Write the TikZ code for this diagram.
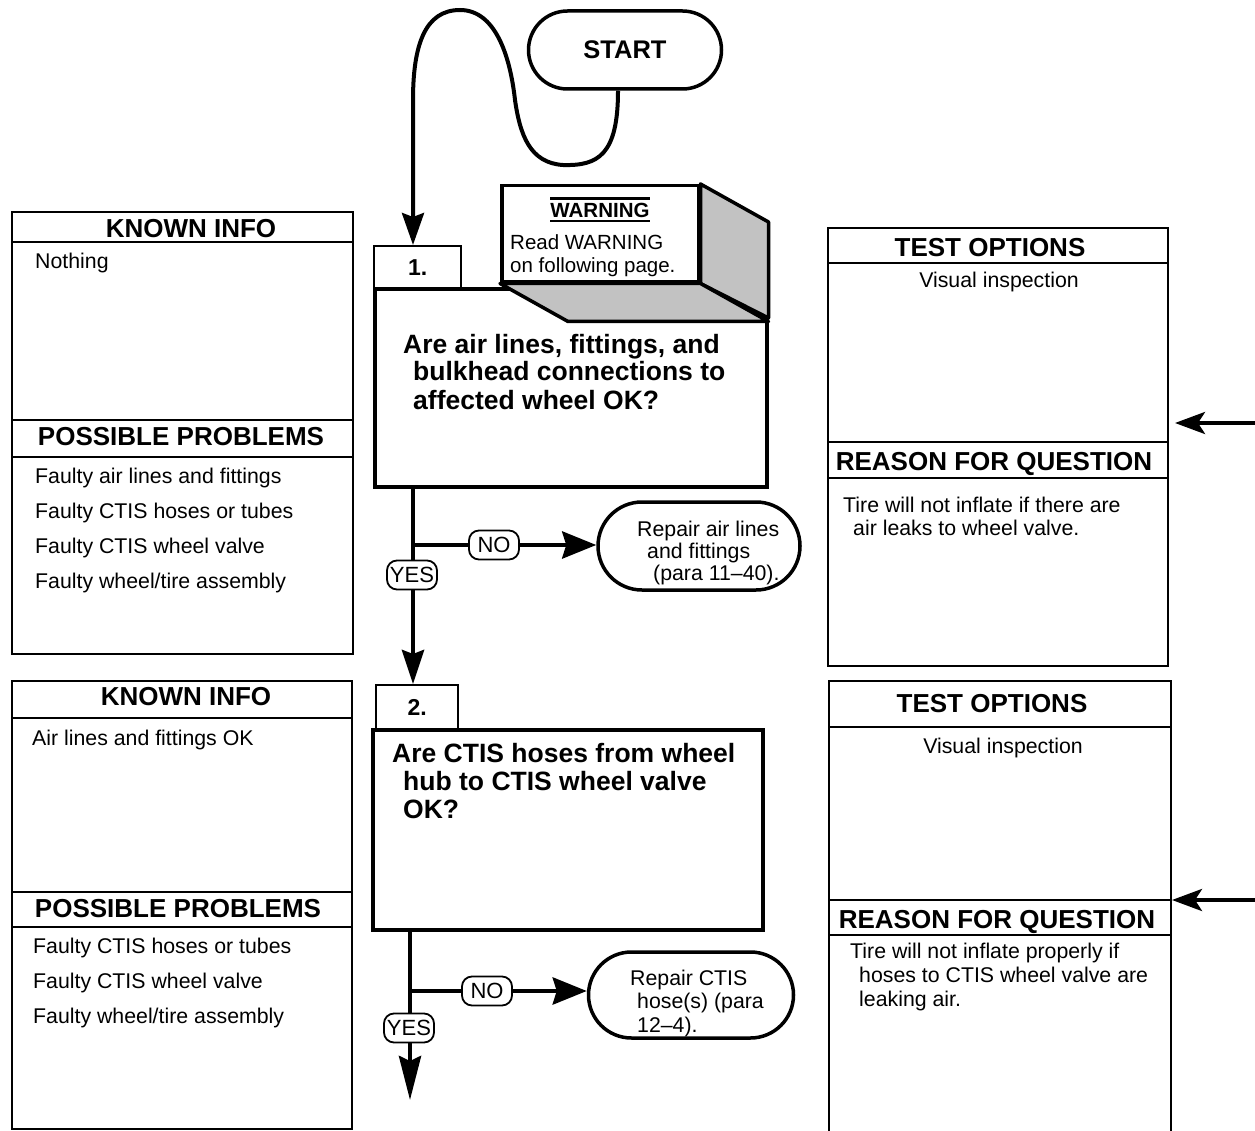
\documentclass[tikz,border=0pt]{standalone}
\usepackage{fontspec}
\setmainfont{Liberation Sans}
\usetikzlibrary{arrows.meta,calc}
\newcommand\bodyfont{\fontsize{21.3}{23}\selectfont}
\newcommand\headfont{\fontsize{26}{30}\selectfont\bfseries}
\newcommand\quesfont{\fontsize{26.5}{28}\selectfont\bfseries}
\newcommand\textrows[1]{\begin{tabular}[t]{@{}l@{}}#1\end{tabular}}

\begin{document}
\begin{tikzpicture}[x=1pt,y=-1pt,
  panel/.style={draw, line width=2pt, anchor=north west, inner sep=0pt},
  rule/.style={line width=2pt},
  heading/.style={font=\headfont, anchor=base, inner sep=0pt},
  body/.style={font=\bodyfont, anchor=base west, inner sep=0pt},
  ques/.style={draw, line width=4pt, anchor=north west, inner sep=0pt},
  tabbox/.style={draw, line width=2.2pt, anchor=north west, inner sep=0pt, font=\fontsize{23}{23}\selectfont\bfseries},
  flow/.style={line width=4.5pt},
  flowarrow/.style={flow, -{Stealth[length=34pt,width=27pt,inset=4pt]}},
  downarrow/.style={flow, -{Stealth[length=34pt,width=22pt,inset=4pt]}},
  longdown/.style={flow, -{Stealth[length=44pt,width=22pt,inset=5pt]}},
  sidearrow/.style={line width=4pt, -{Stealth[length=30pt,width=22pt,inset=7pt]}},
  answer/.style={draw, line width=1.8pt, rounded corners=10pt, fill=white, inner xsep=1pt, inner ysep=0pt, minimum width=50pt, minimum height=29pt, font=\fontsize{22}{22}\selectfont},
  pill/.style={draw, line width=3.5pt, rounded corners=42pt},
  shadeface/.style={draw, line width=3.5pt, fill=black!24, line join=round},
]
\path[fill=white, use as bounding box] (0,0) rectangle (1255,1131);

% ---------------- left column, step 1
\node[panel, minimum width=341pt, minimum height=442pt] (known1) at (11,211) {};
\draw[rule] (known1.west |- 0,242) -- (known1.east |- 0,242);
\draw[rule] (known1.west |- 0,420) -- (known1.east |- 0,420);
\draw[rule] (known1.west |- 0,457) -- (known1.east |- 0,457);
\node[heading] (known1h) at (191,238) {KNOWN INFO};
\node[body] (known1t) at (35,269) {Nothing};
\node[heading] (prob1h) at (181,445) {POSSIBLE PROBLEMS};
\node[body, font=\fontsize{21.3}{35}\selectfont] (prob1t) at (35,483)
  {\textrows{Faulty air lines and fittings\\Faulty CTIS hoses or tubes\\Faulty CTIS wheel valve\\Faulty wheel/tire assembly}};

% ---------------- left column, step 2
\node[panel, minimum width=340pt, minimum height=448pt] (known2) at (11,680) {};
\draw[rule] (known2.west |- 0,718) -- (known2.east |- 0,718);
\draw[rule] (known2.west |- 0,892) -- (known2.east |- 0,892);
\draw[rule] (known2.west |- 0,927) -- (known2.east |- 0,927);
\node[heading] (known2h) at (186,705) {KNOWN INFO};
\node[body] (known2t) at (32,745) {Air lines and fittings OK};
\node[heading] (prob2h) at (178,917) {POSSIBLE PROBLEMS};
\node[body, font=\fontsize{21.3}{35}\selectfont] (prob2t) at (33,953)
  {\textrows{Faulty CTIS hoses or tubes\\Faulty CTIS wheel valve\\Faulty wheel/tire assembly}};

% ---------------- right column, step 1
\node[panel, minimum width=340pt, minimum height=438pt] (test1) at (827,227) {};
\draw[rule] (test1.west |- 0,263) -- (test1.east |- 0,263);
\draw[rule] (test1.west |- 0,442) -- (test1.east |- 0,442);
\draw[rule] (test1.west |- 0,478) -- (test1.east |- 0,478);
\node[heading] (test1h) at (990,257) {TEST OPTIONS};
\node[body, anchor=base] (test1t) at (999,288) {Visual inspection};
\node[heading] (why1h) at (994,470) {REASON FOR QUESTION};
\node[body, font=\fontsize{21.3}{23}\selectfont] (why1t) at (843,512)
  {\textrows{Tire will not inflate if there are\\\hspace*{10pt}air leaks to wheel valve.}};
\coordinate (in1) at (1255,423);
\draw[sidearrow] (in1) -- ($(test1.east |- in1)+(6,0)$);

% ---------------- right column, step 2
\node[panel, minimum width=342pt, minimum height=470pt] (test2) at (828,680) {};
\draw[rule] (test2.west |- 0,727) -- (test2.east |- 0,727);
\draw[rule] (test2.west |- 0,900) -- (test2.east |- 0,900);
\draw[rule] (test2.west |- 0,935) -- (test2.east |- 0,935);
\node[heading] (test2h) at (992,712) {TEST OPTIONS};
\node[body, anchor=base] (test2t) at (1003,753) {Visual inspection};
\node[heading] (why2h) at (997,928) {REASON FOR QUESTION};
\node[body, font=\fontsize{21.3}{24}\selectfont] (why2t) at (850,958)
  {\textrows{Tire will not inflate properly if\\\hspace*{9pt}hoses to CTIS wheel valve are\\\hspace*{9pt}leaking air.}};
\coordinate (in2) at (1255,900);
\draw[sidearrow] (in2) -- (test2.east |- in2);

% ---------------- start
\node[pill, rounded corners=39pt, minimum width=193pt, minimum height=78pt,
      font=\fontsize{25.5}{25.5}\selectfont\bfseries] (start) at (625,50) {START};

% ---------------- question 1 with warning block
\node[tabbox, minimum width=87pt, minimum height=42pt] (tab1) at (373,245) {1.};
\node[ques, minimum width=392pt, minimum height=198pt] (q1) at (373,287) {};
\node[draw, line width=3.5pt, fill=white, anchor=north west, inner sep=0pt,
      minimum width=197pt, minimum height=96pt] (warn) at (500,184) {};
\draw[shadeface] (warn.north east) -- ++(68,38) -- ++(0,96) -- (warn.south east) -- cycle;
\draw[shadeface] (warn.south west) -- (warn.south east) -- ++(68,38)
  -- ($(warn.south west)+(68,38)$) -- cycle;
\node[inner sep=0pt, anchor=base, font=\fontsize{20.5}{20.5}\selectfont\bfseries] (wtitle) at (600,218) {WARNING};
\draw[line width=2.5pt] ($(wtitle.north west)+(0,-5)$) -- ($(wtitle.north east)+(0,-5)$);
\draw[line width=2pt] ($(wtitle.base west)+(0,3)$) -- ($(wtitle.base east)+(0,3)$);
\node[body, font=\fontsize{20.5}{22.5}\selectfont] (wtext) at (510,250)
  {\textrows{Read WARNING\\on following page.}};
\node[body, font=\quesfont] (q1t) at (403,353)
  {\textrows{Are air lines, fittings, and\\\hspace*{10pt}bulkhead connections to\\\hspace*{10pt}affected wheel OK?}};

\draw[line width=4pt, -{Stealth[length=32pt,width=22pt,inset=4pt]}]
  (start.south -| 618,0) .. controls (618,155) and (598,166) .. (563,165)
  .. controls (530,163) and (520,135) .. (515,100)
  .. controls (510,55) and (495,10) .. (460,10)
  .. controls (425,10) and (413,45) .. (413,100)
  -- (tab1.north -| 413,0);

% ---------------- question 2
\node[tabbox, minimum width=82pt, minimum height=44pt] (tab2) at (375,684) {2.};
\node[ques, minimum width=390pt, minimum height=200pt] (q2) at (371,728) {};
\node[body, font=\quesfont] (q2t) at (392,762)
  {\textrows{Are CTIS hoses from wheel\\\hspace*{11pt}hub to CTIS wheel valve\\\hspace*{11pt}OK?}};

% ---------------- branches of question 1
\coordinate (b1) at (413,545);
\draw[downarrow] (q1.south -| b1) -- (tab2.north -| b1);
\node[answer] (no1) at (494,545) {NO};
\node[pill, rounded corners=44pt, minimum width=202pt, minimum height=88pt] (rep1) at (699,546) {};
\draw[flow] (b1) -- (no1);
\draw[flowarrow] (no1) -- (rep1.west |- no1);
\node[answer] (yes1) at (412,575) {YES};
\node[body, font=\fontsize{21.3}{22}\selectfont] (rep1t) at (637,536)
  {\textrows{Repair air lines\\\hspace*{10pt}and fittings\\\hspace*{16pt}(para 11--40).}};

% ---------------- branches of question 2
\coordinate (b2) at (410,991);
\coordinate (end2) at (410,1100);
\draw[longdown] (q2.south -| b2) -- (end2);
\node[answer] (no2) at (487,991) {NO};
\node[pill, rounded corners=43pt, minimum width=205pt, minimum height=86pt] (rep2) at (691,995) {};
\draw[flow] (b2) -- (no2);
\draw[flowarrow] (no2) -- (rep2.west |- no2);
\node[answer] (yes2) at (409,1028) {YES};
\node[body, font=\fontsize{21.3}{23.5}\selectfont] (rep2t) at (630,985)
  {\textrows{Repair CTIS\\\hspace*{7pt}hose(s) (para\\\hspace*{7pt}12--4).}};
\end{tikzpicture}
\end{document}
